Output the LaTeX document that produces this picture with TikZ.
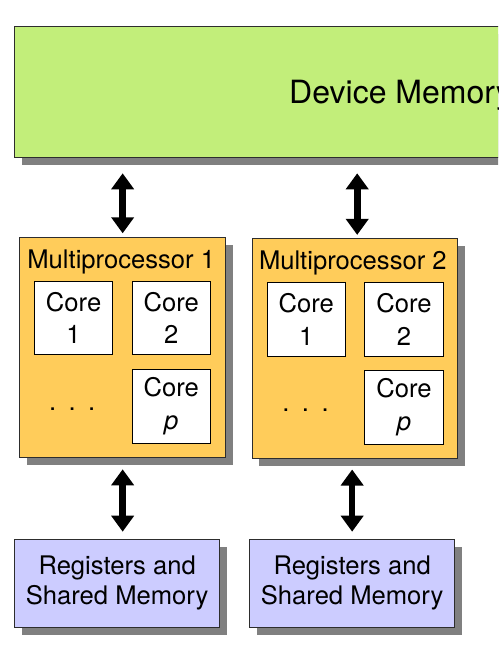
\documentclass[tikz,border=0pt]{standalone}
\usepackage{fontspec}
\setmainfont{TeX Gyre Heros}
\usetikzlibrary{arrows.meta,shadows}
\definecolor{devgreen}{RGB}{194,238,122}
\definecolor{mporange}{RGB}{255,204,90}
\definecolor{regblue}{RGB}{204,204,255}
\definecolor{edge}{RGB}{45,45,45}
\tikzset{
  shad/.style={drop shadow={shadow xshift=7pt,shadow yshift=-7.5pt,fill=black!50,opacity=1}},
  box/.style={draw=edge,line width=1pt,inner sep=0pt,anchor=north west,shad},
  devbox/.style={box,fill=devgreen,font=\fontsize{32pt}{36pt}\selectfont,text depth=0pt},
  mpbox/.style={box,fill=mporange},
  regbox/.style={box,fill=regblue,align=center,font=\fontsize{25.6pt}{30pt}\selectfont},
  corebox/.style={draw=black,line width=0.9pt,fill=white,inner sep=0pt,anchor=north west,
    minimum width=78.3pt,align=center,font=\fontsize{25.6pt}{32.6pt}\selectfont},
  title/.style={inner sep=0pt,anchor=base west,font=\fontsize{25.6pt}{30pt}\selectfont},
  dotsnode/.style={inner sep=0pt,anchor=base,font=\fontsize{25.6pt}{30pt}\selectfont},
  dbl/.style={line width=6.6pt,{Triangle[width=22pt,length=16pt]}-{Triangle[width=22pt,length=16pt]}}
}
\begin{document}
\begin{tikzpicture}[x=1pt,y=-1pt]
\clip (0,0) rectangle (498,645);
\fill[white] (0,0) rectangle (498,645);
% device memory
\node[devbox,minimum width=772pt,minimum height=131.6pt] (dev) at (14,25.7) {Device Memory};
% multiprocessors
\node[mpbox,minimum width=205.7pt,minimum height=220pt] (mp1) at (19.3,236.7) {};
\node[mpbox,minimum width=205.6pt,minimum height=219.4pt] (mp2) at (251.7,238.3) {};
\node[title] (t1) at (27.2,268.3) {Multiprocessor 1};
\node[title] (t2) at (258.8,269.3) {Multiprocessor 2};
% cores
\node[corebox,minimum height=73.3pt] (c11) at (34,281) {Core\\1};
\node[corebox,minimum height=73.3pt] (c12) at (131.7,281) {Core\\2};
\node[corebox,minimum height=73.7pt] (c1p) at (131.7,369) {Core\\\textit{p}};
\node[corebox,minimum height=73.3pt] (c21) at (266.7,282.3) {Core\\1};
\node[corebox,minimum height=73.3pt] (c22) at (364.3,282.3) {Core\\2};
\node[corebox,minimum height=73.7pt] (c2p) at (364.3,370) {Core\\\textit{p}};
\node[dotsnode] (d1) at (72.2,410) {.\hspace{12.5pt}.\hspace{12.5pt}.};
\node[dotsnode] (d2) at (305.5,411) {.\hspace{12.5pt}.\hspace{12.5pt}.};
% registers
\node[regbox,minimum width=205.3pt,minimum height=87.7pt] (r1) at (14,539) {Registers and\\Shared Memory};
\node[regbox,minimum width=205.3pt,minimum height=87.7pt] (r2) at (249,539) {Registers and\\Shared Memory};
% arrows
\draw[dbl] ([yshift=-15pt]dev.south -| mp1.north) -- ([yshift=3.4pt]mp1.north);
\draw[dbl] ([xshift=2.2pt,yshift=-15pt]dev.south -| mp2.north) -- ([xshift=2.2pt,yshift=3.4pt]mp2.north);
\draw[dbl] ([yshift=-11.6pt]mp1.south) -- ([yshift=7.3pt]r1.north -| mp1.south);
\draw[dbl] ([yshift=-10.8pt]mp2.south -| r2.north) -- ([yshift=7.3pt]r2.north);
\end{tikzpicture}
\end{document}
